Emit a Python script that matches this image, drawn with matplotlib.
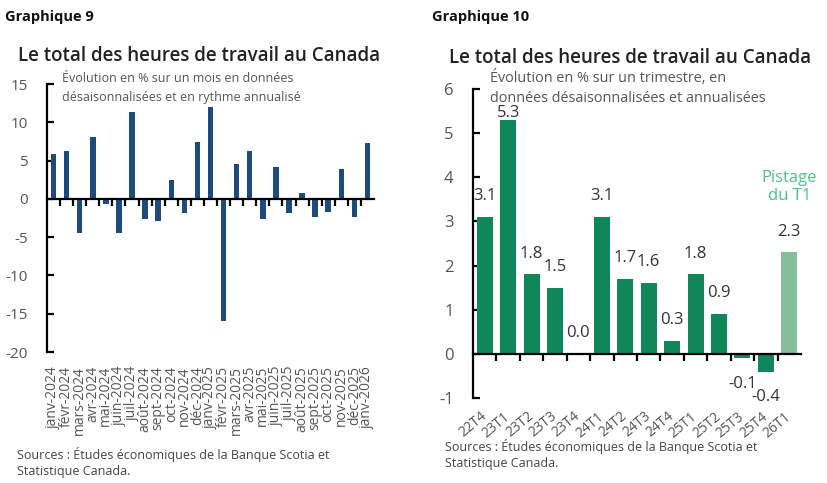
import matplotlib.pyplot as plt
import numpy as np

plt.rcParams['font.family'] = ['Open Sans', 'DejaVu Sans']

# Graphique 9 : variation mensuelle annualisée
mois = ['janv-2024', 'févr-2024', 'mars-2024', 'avr-2024', 'mai-2024', 'juin-2024',
        'juil-2024', 'août-2024', 'sept-2024', 'oct-2024', 'nov-2024', 'déc-2024',
        'janv-2025', 'févr-2025', 'mars-2025', 'avr-2025', 'mai-2025', 'juin-2025',
        'juil-2025', 'août-2025', 'sept-2025', 'oct-2025', 'nov-2025', 'déc-2025',
        'janv-2026']
val_mois = [5.8, 6.3, -4.4, 8.1, -0.7, -4.5, 11.3, -2.6, -2.9, 2.5, -1.9, 7.4,
            12.0, -16.0, 4.6, 6.2, -2.6, 4.2, -1.9, 0.7, -2.4, -1.7, 3.9, -2.4, 7.3]

# Graphique 10 : variation trimestrielle annualisée
trimestres = ['22T4', '23T1', '23T2', '23T3', '23T4', '24T1', '24T2', '24T3',
              '24T4', '25T1', '25T2', '25T3', '25T4', '26T1']
val_trim = [3.1, 5.3, 1.8, 1.5, 0.0, 3.1, 1.7, 1.6, 0.3, 1.8, 0.9, -0.1, -0.4, 2.3]

BLEU = '#1f4a7e'
VERT = '#0f875b'
VERT_CLAIR = '#86bd9a'
GRIS = '#555555'

fig = plt.figure(figsize=(8.28, 4.83), dpi=100)


def style_axes(ax, n, ylim, yticks, pad_lab, ysize):
    ax.set_xlim(-0.5, n - 0.5)
    ax.set_ylim(*ylim)
    ax.set_yticks(yticks)
    ax.set_yticklabels([str(t) for t in yticks])
    for s in ['top', 'right']:
        ax.spines[s].set_visible(False)
    ax.spines['bottom'].set_position(('data', 0))
    ax.spines['left'].set_linewidth(1.6)
    ax.spines['bottom'].set_linewidth(1.6)
    ax.tick_params(axis='y', direction='in', length=5, width=1.6, pad=14,
                   labelcolor=GRIS, labelsize=ysize)
    # petites marques entre les barres, sur la ligne du zéro
    ax.set_xticks(np.arange(n - 1) + 0.5)
    ax.set_xticklabels([])
    ax.tick_params(axis='x', direction='out', length=5, width=1.6)
    sec = ax.secondary_xaxis(0.0)
    sec.spines['bottom'].set_visible(False)
    sec.set_xticks(np.arange(n))
    sec.tick_params(length=0, pad=pad_lab, labelcolor=GRIS)
    return sec


# ---- Graphique 9 ----
ax1 = fig.add_axes([47 / 828, 1 - 352 / 483, 327 / 828, 268 / 483])
x1 = np.arange(len(mois))
ax1.bar(x1, val_mois, width=0.42, color=BLEU, zorder=2)
sec1 = style_axes(ax1, len(mois), (-20, 15), list(range(-20, 16, 5)), 10, 11)
sec1.set_xticklabels(mois, rotation=90, fontsize=10, va='top')

fig.text(5 / 828, 1 - 17 / 483, 'Graphique 9', fontsize=10.5, fontweight='bold',
         va='center', color='#111111')
fig.text(18 / 828, 1 - 56 / 483, 'Le total des heures de travail au Canada',
         fontsize=13.5, fontweight='semibold', va='center', color='#222222')
fig.text(62 / 828, 1 - 79 / 483, 'Évolution en % sur un mois en données',
         fontsize=9, va='center', color=GRIS)
fig.text(62 / 828, 1 - 97 / 483, 'désaisonnalisées et en rythme annualisé',
         fontsize=9, va='center', color=GRIS)
fig.text(17 / 828, 1 - 455 / 483, 'Sources : Études économiques de la Banque Scotia et',
         fontsize=9, va='center', color='#444444')
fig.text(17 / 828, 1 - 471 / 483, 'Statistique Canada.',
         fontsize=9, va='center', color='#444444')

# ---- Graphique 10 ----
ax2 = fig.add_axes([473 / 828, 1 - 398 / 483, 328 / 828, 309 / 483])
x2 = np.arange(len(trimestres))
couleurs = [VERT] * (len(trimestres) - 1) + [VERT_CLAIR]
ax2.bar(x2, val_trim, width=0.68, color=couleurs, zorder=2)
sec2 = style_axes(ax2, len(trimestres), (-1, 6), list(range(-1, 7)), 12, 12)
sec2.set_xticklabels(trimestres, rotation=40, fontsize=10, ha='right',
                     va='center', rotation_mode='anchor')
for xi, v in zip(x2, val_trim):
    if v >= 0:
        y = min(v + 0.47, 5.45)
    else:
        y = v - 0.58
    ax2.text(xi, y, f'{v:.1f}', ha='center', va='center', fontsize=12,
             color='#333333')
ax2.text(x2[-1], 3.78, 'Pistage\ndu T1', ha='center', va='center', fontsize=12,
         color='#4cc283', linespacing=1.2)

fig.text(432 / 828, 1 - 17 / 483, 'Graphique 10', fontsize=10.5, fontweight='bold',
         va='center', color='#111111')
fig.text(449 / 828, 1 - 58 / 483, 'Le total des heures de travail au Canada',
         fontsize=13.5, fontweight='semibold', va='center', color='#222222')
fig.text(490 / 828, 1 - 78 / 483, 'Évolution en % sur un trimestre, en',
         fontsize=10.4, va='center', color=GRIS)
fig.text(490 / 828, 1 - 99 / 483, 'données désaisonnalisées et annualisées',
         fontsize=10.4, va='center', color=GRIS)
fig.text(445 / 828, 1 - 447 / 483, 'Sources : Études économiques de la Banque Scotia et',
         fontsize=9, va='center', color='#444444')
fig.text(445 / 828, 1 - 463 / 483, 'Statistique Canada.',
         fontsize=9, va='center', color='#444444')

fig.savefig('out.png', dpi=100)
